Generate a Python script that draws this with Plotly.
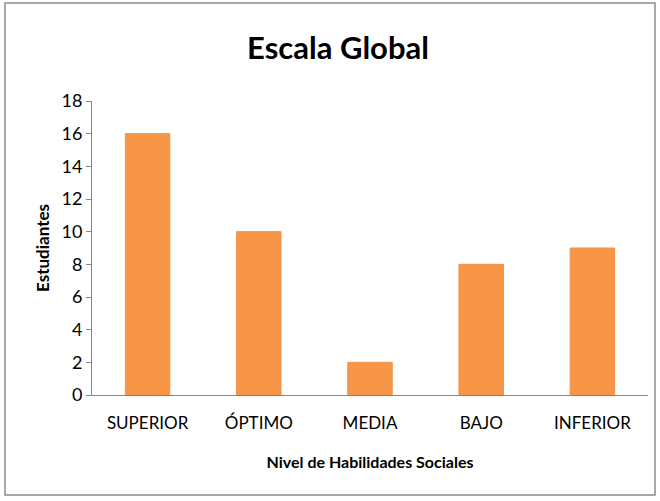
import plotly.graph_objects as go

categories = ["SUPERIOR", "ÓPTIMO", "MEDIA", "BAJO", "INFERIOR"]
values = [16, 10, 2, 8, 9]
y_ticks = [0, 2, 4, 6, 8, 10, 12, 14, 16, 18]

FONT = "Lato, Open Sans, Arial"

fig = go.Figure()
fig.add_trace(go.Bar(
    x=categories, y=values,
    marker=dict(color="#F79646", line=dict(color="#F0914A", width=1)),
))

fig.update_layout(
    width=660, height=501,
    margin=dict(l=92, r=12, t=101, b=106),
    paper_bgcolor="white", plot_bgcolor="white",
    showlegend=False,
    bargap=0.6,
    title=dict(text="<b>Escala Global</b>", x=338 / 660, xref="container", xanchor="center",
               y=1 - 48 / 501, yref="container", yanchor="middle",
               font=dict(family=FONT, size=31, color="black")),
    font=dict(family=FONT, color="black"),
)

fig.update_xaxes(
    showline=True, linecolor="#868686", linewidth=1,
    ticks="", tickfont=dict(size=17, family=FONT, color="black"),
    ticklabelstandoff=13,
    title=dict(text="<b>Nivel de Habilidades Sociales</b>",
               font=dict(size=16, family=FONT, color="black"), standoff=24),
)
fig.update_yaxes(
    range=[0, 18], tickvals=y_ticks, showgrid=False, zeroline=False,
    showline=True, linecolor="#868686", linewidth=1,
    ticks="outside", ticklen=5, tickcolor="#868686",
    tickfont=dict(size=18, family=FONT, color="black"),
    title=dict(text="<b>Estudiantes</b>",
               font=dict(size=17, family=FONT, color="black"), standoff=7),
)

fig.add_shape(type="rect", xref="paper", yref="paper",
              x0=-87 / 556, x1=1 + 7 / 556, y0=-(106 - 6) / 294, y1=1 + 98 / 294,
              line=dict(color="#8C8C8C", width=1.5), layer="below")

fig.write_html("out.html", config={"displayModeBar": False},
               post_script="document.body.style.margin='0';document.body.style.overflow='hidden';")
